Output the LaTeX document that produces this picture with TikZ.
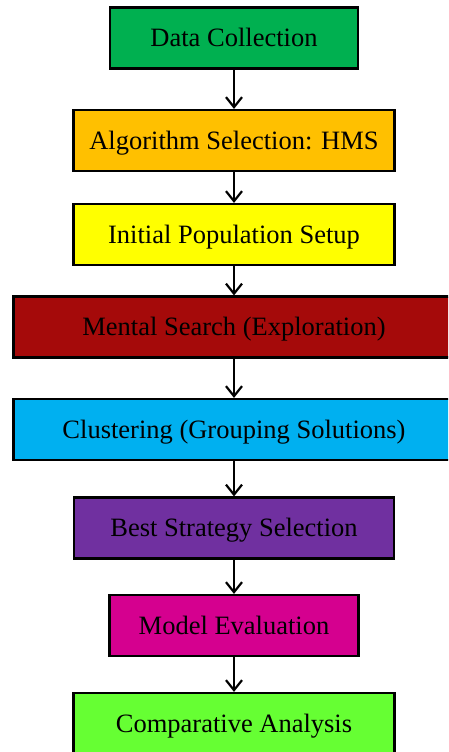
\documentclass[tikz,border=0pt]{standalone}
\usepackage{fontspec}
\setmainfont{Liberation Serif}
\usetikzlibrary{arrows.meta}
\definecolor{cgreen}{HTML}{00B050}
\definecolor{corange}{HTML}{FFC000}
\definecolor{cyellow}{HTML}{FFFF00}
\definecolor{cdarkred}{HTML}{A50A0A}
\definecolor{cblue}{HTML}{00B0F0}
\definecolor{cpurple}{HTML}{7030A0}
\definecolor{cmagenta}{HTML}{D5008F}
\definecolor{clime}{HTML}{66FF33}
\begin{document}
\begin{tikzpicture}[x=1pt,y=-1pt,
  box/.style={draw=black, line width=2.2pt, minimum height=61pt, inner sep=0pt,
    font=\fontsize{26.5}{30}\selectfont, text=black, text depth=1pt},
  flow/.style={line width=2.2pt, -{Straight Barb[length=10pt,width=16pt,line width=2.2pt]}}]
\useasboundingbox (0,0) rectangle (448,752);
\clip (0,0) rectangle (448,752);
\node[box, fill=cgreen, minimum width=248pt] (n1) at (234,38) {Data Collection};
\node[box, fill=corange, minimum width=321pt] (n2) at (234,140.5) {Algorithm Selection: HMS};
\node[box, fill=cyellow, minimum width=321pt] (n3) at (234,234.5) {Initial Population Setup};
\node[box, fill=cdarkred, minimum width=441pt] (n4) at (234,327) {Mental Search (Exploration)};
\node[box, fill=cblue, minimum width=441pt] (n5) at (234,429.5) {Clustering (Grouping Solutions)};
\node[box, fill=cpurple, minimum width=320pt] (n6) at (234,528) {Best Strategy Selection};
\node[box, fill=cmagenta, minimum width=249pt] (n7) at (234,625.5) {Model Evaluation};
\node[box, fill=clime, minimum width=321pt] (n8) at (234,723.5) {Comparative Analysis};
\draw[flow] (n1) -- (n2);
\draw[flow] (n2) -- (n3);
\draw[flow] (n3) -- (n4);
\draw[flow] (n4) -- (n5);
\draw[flow] (n5) -- (n6);
\draw[flow] (n6) -- (n7);
\draw[flow] (n7) -- (n8);
\end{tikzpicture}
\end{document}
